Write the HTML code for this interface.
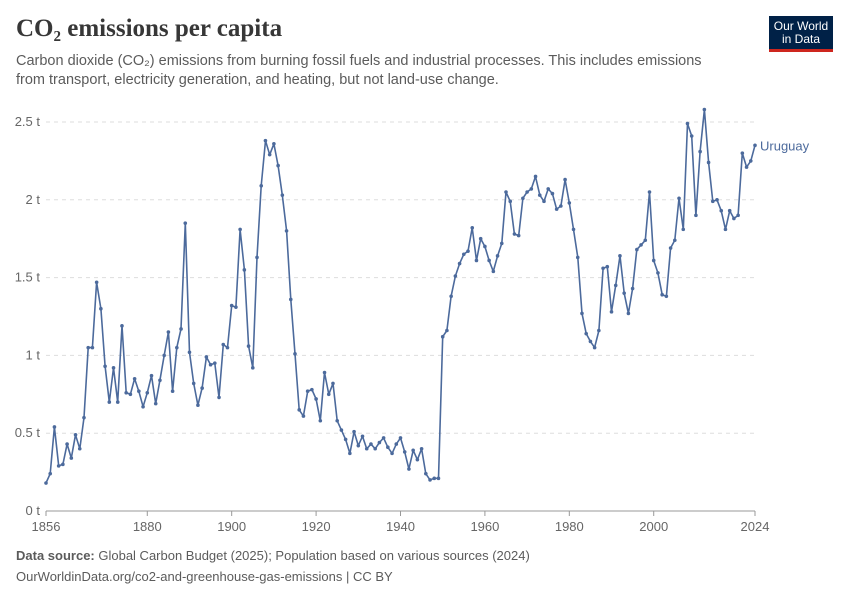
<!DOCTYPE html>
<html><head><meta charset="utf-8"><style>
body{margin:0;background:#fff;font-family:"Liberation Sans",sans-serif;}
#wrap{position:relative;width:850px;height:600px;overflow:hidden;}
.t{position:absolute;white-space:nowrap;}
</style></head><body>
<div id="wrap">
<div class="t" style="left:16px;top:15px;font:bold 25px 'Liberation Serif',serif;color:#373737;">CO₂ emissions per capita</div>
<div class="t" style="left:16px;top:52px;font-size:14.5px;line-height:19px;color:#5b5b5b;">Carbon dioxide (CO₂) emissions from burning fossil fuels and industrial processes. This includes emissions<br>from transport, electricity generation, and heating, but not land-use change.</div>
<div style="position:absolute;left:769px;top:16px;width:64px;height:36px;background:#002147;border-bottom:3px solid #ce261e;box-sizing:border-box;color:#fff;font-size:12px;line-height:13px;text-align:center;padding-top:4px;">Our World<br>in Data</div>
<svg id="chart" width="850" height="600" style="position:absolute;left:0;top:0;"></svg>
<div class="t" style="left:16px;top:548px;font-size:13px;color:#5b5b5b;"><b>Data source:</b> Global Carbon Budget (2025); Population based on various sources (2024)</div>
<div class="t" style="left:16px;top:569px;font-size:13px;color:#5b5b5b;">OurWorldinData.org/co2-and-greenhouse-gas-emissions | CC BY</div>
</div>
<script>
const startYear = 1856;
const values = [0.18,0.24,0.54,0.29,0.30,0.43,0.34,0.49,0.40,0.60,1.05,1.05,1.47,1.30,0.93,0.70,0.92,0.70,1.19,0.76,0.75,0.85,0.77,0.67,0.76,0.87,0.69,0.84,1.00,1.15,0.77,1.05,1.17,1.85,1.02,0.82,0.68,0.79,0.99,0.94,0.95,0.73,1.07,1.05,1.32,1.31,1.81,1.55,1.06,0.92,1.63,2.09,2.38,2.29,2.36,2.22,2.03,1.80,1.36,1.01,0.65,0.61,0.77,0.78,0.72,0.58,0.89,0.75,0.82,0.58,0.52,0.46,0.37,0.51,0.42,0.48,0.40,0.43,0.40,0.44,0.47,0.41,0.37,0.43,0.47,0.38,0.27,0.39,0.33,0.40,0.24,0.20,0.21,0.21,1.12,1.16,1.38,1.51,1.59,1.65,1.67,1.82,1.61,1.75,1.70,1.61,1.54,1.64,1.72,2.05,1.99,1.78,1.77,2.01,2.05,2.07,2.15,2.03,1.99,2.07,2.04,1.94,1.96,2.13,1.98,1.81,1.63,1.27,1.14,1.09,1.05,1.16,1.56,1.57,1.28,1.45,1.64,1.40,1.27,1.43,1.68,1.71,1.74,2.05,1.61,1.53,1.39,1.38,1.69,1.74,2.01,1.81,2.49,2.41,1.90,2.31,2.58,2.24,1.99,2.00,1.93,1.81,1.93,1.88,1.90,2.30,2.21,2.25,2.35];
const yTicks = [0,0.5,1,1.5,2,2.5];
const yTickLabels = ["0 t","0.5 t","1 t","1.5 t","2 t","2.5 t"];
const xTicks = [1856,1880,1900,1920,1940,1960,1980,2000,2024];
const seriesName = "Uruguay";

const NS="http://www.w3.org/2000/svg", svg=document.getElementById('chart');
const x0=46,x1=755,y0=511,y1=122;
const endYear=startYear+values.length-1;
const xs=yr=>x0+(yr-startYear)/(2024-startYear)*(x1-x0);
const ys=v=>y0-v/2.5*(y0-y1);
function mk(t,a){const e=document.createElementNS(NS,t);for(const k in a)e.setAttribute(k,a[k]);svg.appendChild(e);return e;}
yTicks.forEach((v,i)=>{
  const y=ys(v);
  const g=mk('line',{x1:x0,x2:x1,y1:y,y2:y,stroke:v===0?'#999':'#ddd','stroke-dasharray':v===0?'':'4,4'});
  
  
  const t=mk('text',{x:40,y:y+4,'text-anchor':'end','font-size':13,fill:'#666','font-family':'Liberation Sans,sans-serif'});
  t.textContent=yTickLabels[i];
  
  
});
xTicks.forEach(yr=>{
  const x=xs(yr);
  const l=mk('line',{x1:x,x2:x,y1:y0,y2:y0+5,stroke:'#999'});
  
  
  const t=mk('text',{x:x,y:y0+20,'text-anchor':'middle','font-size':13,fill:'#666','font-family':'Liberation Sans,sans-serif'});
  t.textContent=yr;
  
  
});
const pts=values.map((v,i)=>xs(startYear+i).toFixed(1)+','+ys(v).toFixed(1));
const pl=mk('polyline',{points:pts.join(' '),fill:'none',stroke:'#4c6a9c','stroke-width':1.6,'stroke-linejoin':'round'});


values.forEach((v,i)=>{
  const c=mk('circle',{cx:xs(startYear+i),cy:ys(v),r:1.8,fill:'#4c6a9c'});
  
  
});
const lab=mk('text',{x:xs(endYear)+5,y:ys(values[values.length-1])+5,'font-size':13,fill:'#4c6a9c','font-family':'Liberation Sans,sans-serif'});
lab.textContent=seriesName;


</script>
</body></html>
